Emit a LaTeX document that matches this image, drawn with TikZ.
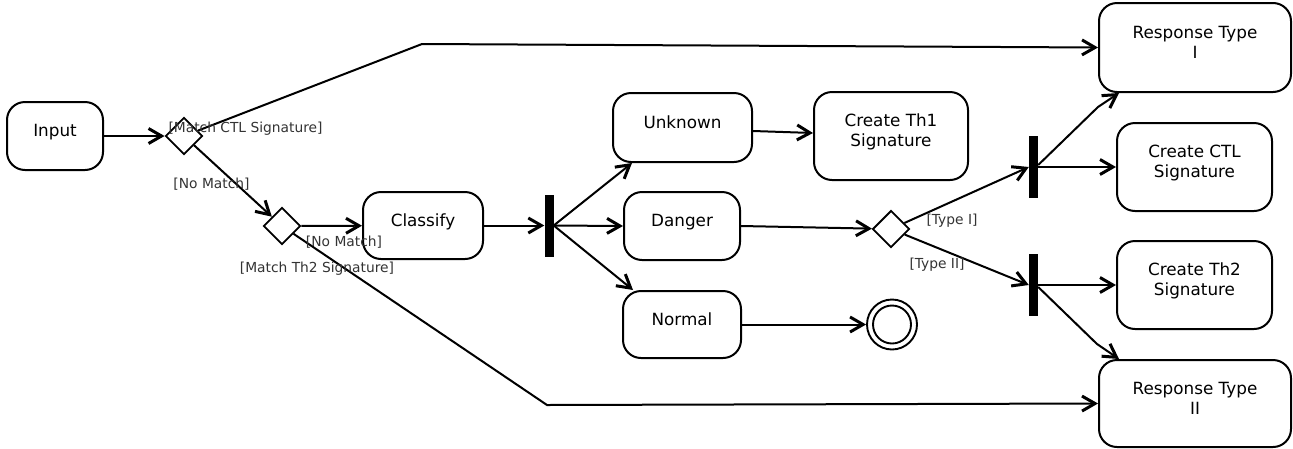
\documentclass[tikz,border=0pt]{standalone}
\usepackage{fontspec}
\setmainfont{DejaVu Sans}
\usetikzlibrary{arrows.meta,shapes.geometric}

% action box: rounded frame plus its caption, set slightly above the middle
\newcommand\mkact[6]{%
  \node[actbox, minimum width=#4pt, minimum height=#5pt] (#1) at (#2,#3) {};
  \node[acttext] (#1-t) at ([yshift=4pt]#1.center) {#6};}

\begin{document}
\begin{tikzpicture}[x=1pt,y=-1pt,
  actbox/.style={draw, line width=2pt, rounded corners=18pt, inner sep=0pt},
  acttext/.style={font=\fontsize{16.8}{20}\selectfont, align=center, inner sep=0pt, text depth=3pt},
  decision/.style={draw, diamond, line width=1.9pt, minimum width=37pt, minimum height=37pt, inner sep=0pt},
  forkbar/.style={fill=black, draw=none, minimum width=9pt, minimum height=62pt, inner sep=0pt},
  flow/.style={line width=2pt, -{Straight Barb[length=13pt,width=15pt,line width=3pt]}},
  guard/.style={font=\fontsize{13.8}{16}\selectfont, text=black!80, inner sep=0pt},
]
\useasboundingbox (0,0) rectangle (1293,448);

% actions
\mkact{input}{55}{136}{96}{68}{Input}
\mkact{classify}{423}{225.5}{120}{67}{Classify}
\mkact{unknown}{682.5}{127.5}{139}{69}{Unknown}
\mkact{danger}{682}{226}{116}{68}{Danger}
\mkact{normal}{682}{324.5}{118}{67}{Normal}
\mkact{th1}{891}{136}{154}{88}{Create Th1\\Signature}
\mkact{rt1}{1195}{47.5}{192}{89}{Response Type\\I}
\mkact{ctl}{1194.5}{167}{155}{88}{Create CTL\\Signature}
\mkact{th2}{1194.5}{285}{155}{88}{Create Th2\\Signature}
\mkact{rt2}{1195}{403.5}{192}{87}{Response Type\\II}

% decisions, forks and final node
\node[decision] (d1) at (184,136) {};
\node[decision] (d2) at (282,226) {};
\node[decision] (d3) at (891,229) {};
\node[forkbar] (fork1) at (549,225.5) {};
\node[forkbar] (fork2) at (1033.5,167) {};
\node[forkbar] (fork3) at (1033.5,285) {};
\node[draw, circle, line width=1.9pt, minimum size=50pt, inner sep=0pt] (final) at (892,324.5) {};
\node[draw, circle, line width=1.9pt, minimum size=38pt, inner sep=0pt] (finalin) at (final.center) {};

% bend points
\coordinate (w1) at (422,44);
\coordinate (w2) at (547,405);
\coordinate (w3) at (1098,107);
\coordinate (w4) at (1097,344);

% flows
\draw[flow] (input) -- (d1);
\draw[flow] (d1) -- (w1) -- (rt1.west);
\draw[flow] (d1) -- (d2);
\draw[flow] (d2) -- (classify);
\draw[flow] (d2) -- (w2) -- (rt2.west);
\draw[flow] (classify) -- (fork1.west);
\draw[flow] (fork1.east) -- ([xshift=20pt]unknown.south west);
\draw[flow] (fork1.east) -- (danger.west);
\draw[flow] (fork1.east) -- ([xshift=11pt]normal.north west);
\draw[flow] ([yshift=-3.5pt]unknown.east) -- ([yshift=3pt]th1.west);
\draw[flow] (danger.east) -- (d3);
\draw[flow] (normal.east) -- (final);
\draw[flow] (d3) -- (fork2.west);
\draw[flow] (d3) -- (fork3.west);
\draw[flow] (fork2.east) -- (ctl.west);
\draw[flow] ([yshift=2pt]fork2.east) -- (w3) -- ([xshift=21pt]rt1.south west);
\draw[flow] (fork3.east) -- (th2.west);
\draw[flow] ([yshift=-2pt]fork3.east) -- (w4) -- ([xshift=21pt]rt2.north west);

% guards
\node[guard] (g1) at (245.5,129) {[Match CTL Signature]};
\node[guard] (g2) at (211.5,184) {[No Match]};
\node[guard] (g3) at (344,242) {[No Match]};
\node[guard] (g4) at (317,269) {[Match Th2 Signature]};
\node[guard] (g5) at (952,221) {[Type I]};
\node[guard] (g6) at (937,265) {[Type II]};
\end{tikzpicture}
\end{document}
